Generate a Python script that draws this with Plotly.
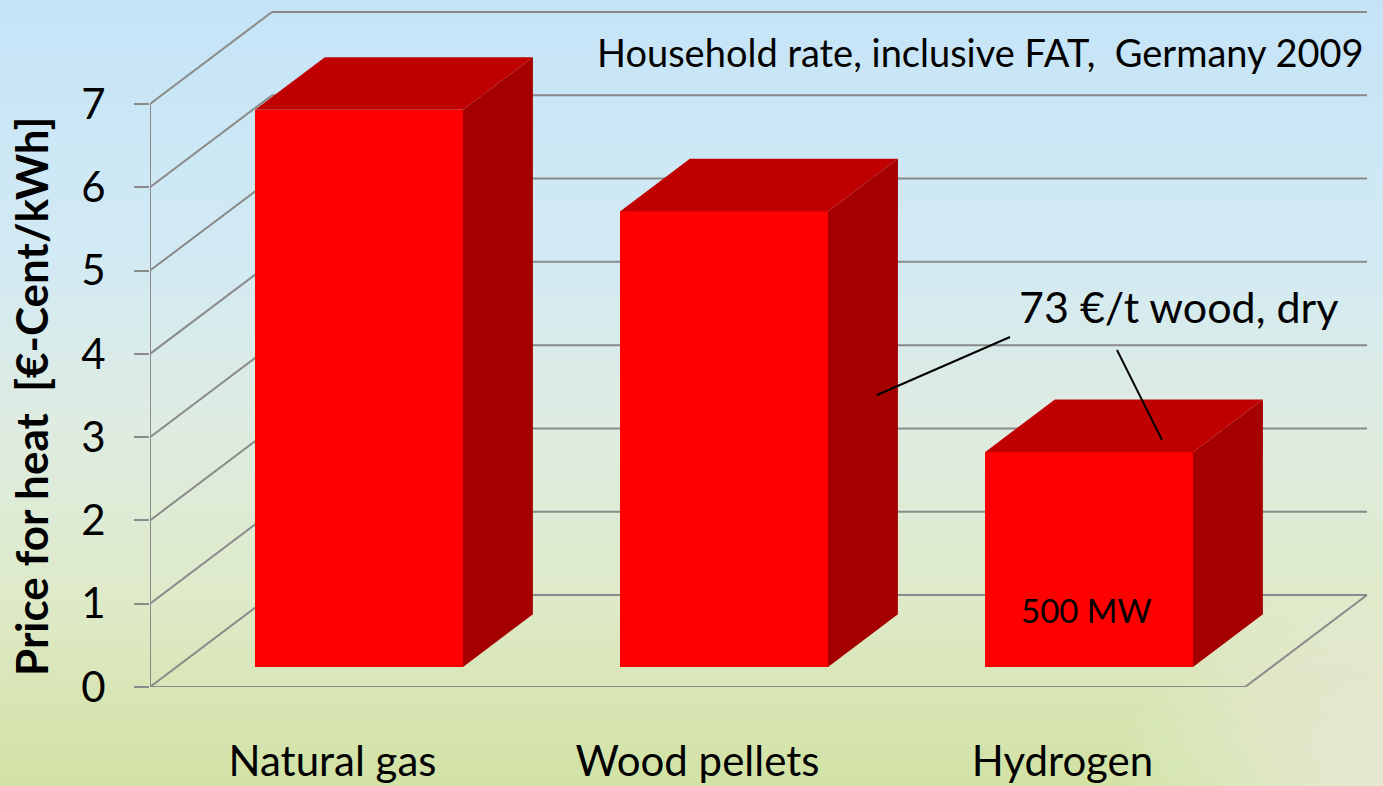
import plotly.graph_objects as go

# ---------------- data ----------------
categories = ["Natural gas", "Wood pellets", "Hydrogen"]
prices = [6.69, 5.47, 2.58]          # €-Cent/kWh
y_tick_values = [0, 1, 2, 3, 4, 5, 6, 7]
y_tick_labels = ["0", "1", "2", "3", "4", "5", "6", "7"]
subtitle = "Household rate, inclusive FAT,  Germany 2009"
wood_note = "73 €/t wood, dry"
hydrogen_note = "500 MW"
y_title = "<b>Price for heat  [€-Cent/kWh]</b>"

# ---------------- layout geometry ----------------
W, H = 1383, 786
ML, MR, MT, MB = 150, 0, 0, 99
plot_w = W - ML - MR
plot_h = H - MT - MB
px_per_cat = 365.0
px_per_val = 583.0 / 7.0
x0 = -0.5
x_range = [x0, x0 + plot_w / px_per_cat]
y_range = [0, plot_h / px_per_val]

DX = 122.0 / px_per_cat     # full depth shift (category units)
DY = 92.0 / px_per_val      # full depth shift (value units)
D_FRONT, D_BACK = 0.217, 0.79
BAR_W = 0.57
n_cat = len(categories)
x_end = x0 + n_cat


def xp(px):
    return x0 + (px - ML) / px_per_cat


def yp(py):
    return (plot_h + MT - py) / px_per_val


def xpap(px):
    return (px - ML) / plot_w


def ypap(py):
    return (plot_h + MT - py) / plot_h


FONT = "Lato"
GRID = "#8a8a8a"
shapes = []

# ---------------- background gradient ----------------
stops = [(0, (196, 228, 246)), (250, (210, 234, 244)), (420, (222, 236, 226)),
         (600, (222, 234, 200)), (786, (210, 226, 164))]


def col_at(py):
    for (a, ca), (b, cb) in zip(stops[:-1], stops[1:]):
        if a <= py <= b:
            t = (py - a) / (b - a)
            return tuple(int(round(ca[i] + (cb[i] - ca[i]) * t)) for i in range(3))
    return stops[-1][1]


step = 6
for py in range(0, H, step):
    c = col_at(py + step / 2)
    shapes.append(dict(type="rect", xref="paper", yref="paper",
                       x0=xpap(-5), x1=xpap(W + 5), y0=ypap(py + step + 0.5), y1=ypap(py),
                       fillcolor="rgb(%d,%d,%d)" % c, line=dict(width=0), layer="below"))
# soft light glow in the bottom-right corner
for r in range(200, 10, -10):
    shapes.append(dict(type="circle", xref="paper", yref="paper",
                       x0=xpap(W - r * 1.3), x1=xpap(W + r * 1.3),
                       y0=ypap(H + r), y1=ypap(H - r),
                       fillcolor="rgba(252,253,245,0.04)", line=dict(width=0), layer="below"))

# ---------------- 3D frame / gridlines ----------------
for v in y_tick_values:
    shapes.append(dict(type="line", xref="x", yref="y", x0=x0, y0=v, x1=x0 + DX, y1=v + DY,
                       line=dict(color=GRID, width=2), layer="below"))
    shapes.append(dict(type="line", xref="x", yref="y", x0=x0 + DX, y0=v + DY, x1=x_end + DX, y1=v + DY,
                       line=dict(color=GRID, width=2), layer="below"))
# floor front and right edge
shapes.append(dict(type="line", xref="x", yref="y", x0=x0, y0=0, x1=x_end, y1=0,
                   line=dict(color=GRID, width=2), layer="below"))
shapes.append(dict(type="line", xref="x", yref="y", x0=x_end, y0=0, x1=x_end + DX, y1=DY,
                   line=dict(color=GRID, width=2), layer="below"))
# value axis line
shapes.append(dict(type="line", xref="x", yref="y", x0=x0, y0=0, x1=x0, y1=max(y_tick_values),
                   line=dict(color=GRID, width=2), layer="below"))

fig = go.Figure()

# ---------------- bars ----------------
fx = D_FRONT * DX
fy = D_FRONT * DY
ddx = (D_BACK - D_FRONT) * DX
ddy = (D_BACK - D_FRONT) * DY

fig.add_trace(go.Bar(x=[i + fx for i in range(n_cat)], y=prices, base=fy, width=BAR_W,
                     marker=dict(color="#ff0000", line=dict(width=0)), hoverinfo="skip",
                     showlegend=False))
for i, v in enumerate(prices):
    xl = i + fx - BAR_W / 2
    xr = i + fx + BAR_W / 2
    top = fy + v
    # top face
    fig.add_trace(go.Scatter(x=[xl, xr, xr + ddx, xl + ddx, xl],
                             y=[top, top, top + ddy, top + ddy, top],
                             fill="toself", fillcolor="#c00000", mode="lines",
                             line=dict(width=0, color="#c00000"), hoverinfo="skip", showlegend=False))
    # side face
    fig.add_trace(go.Scatter(x=[xr, xr, xr + ddx, xr + ddx, xr],
                             y=[fy, top, top + ddy, fy + ddy, fy],
                             fill="toself", fillcolor="#a50000", mode="lines",
                             line=dict(width=0, color="#a50000"), hoverinfo="skip", showlegend=False))

# ---------------- annotation pointer lines ----------------
shapes.append(dict(type="line", xref="x", yref="y", x0=xp(877), y0=yp(395), x1=xp(1010), y1=yp(337),
                   line=dict(color="black", width=2), layer="above"))
shapes.append(dict(type="line", xref="x", yref="y", x0=xp(1117), y0=yp(350), x1=xp(1162), y1=yp(440),
                   line=dict(color="black", width=2), layer="above"))

annotations = [
    dict(text=subtitle, x=xpap(1366), y=ypap(52), xref="paper", yref="paper", xanchor="right",
         yanchor="middle", showarrow=False, font=dict(family=FONT, size=38, color="black")),
    dict(text=wood_note, x=xpap(1178), y=ypap(306), xref="paper", yref="paper", xanchor="center",
         yanchor="middle", showarrow=False, font=dict(family=FONT, size=43, color="black")),
    dict(text=hydrogen_note, x=xpap(1086), y=ypap(610), xref="paper", yref="paper", xanchor="center",
         yanchor="middle", showarrow=False, font=dict(family=FONT, size=33, color="black")),
    dict(text=y_title, x=xpap(31), y=ypap(397), xref="paper", yref="paper", xanchor="center",
         yanchor="middle", textangle=-90, showarrow=False,
         font=dict(family=FONT, size=44, color="black")),
]

fig.update_layout(
    width=W, height=H, autosize=False,
    margin=dict(l=ML, r=MR, t=MT, b=MB, pad=0),
    paper_bgcolor="#d8e8d8", plot_bgcolor="rgba(0,0,0,0)",
    shapes=shapes, annotations=annotations, showlegend=False, bargap=0,
    font=dict(family=FONT, color="black"),
    xaxis=dict(range=x_range, tickmode="array", tickvals=list(range(n_cat)), ticktext=categories,
               showgrid=False, zeroline=False, showline=False, ticks="",
               tickfont=dict(family=FONT, size=42, color="black"), ticklabelstandoff=46,
               fixedrange=True, automargin=False),
    yaxis=dict(range=y_range, tickmode="array", tickvals=y_tick_values, ticktext=y_tick_labels,
               showgrid=False, zeroline=False, showline=False, ticks="outside", ticklen=15,
               tickwidth=2, tickcolor=GRID, tickfont=dict(family=FONT, size=42, color="black"),
               ticklabelstandoff=20, fixedrange=True, automargin=False),
)

fig.write_html("out.html", config={"displayModeBar": False},
               post_script="document.body.style.margin='0px';document.body.style.padding='0px';")
